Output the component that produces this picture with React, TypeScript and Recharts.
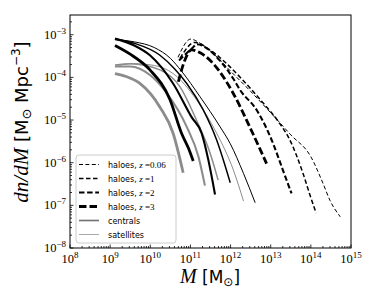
import { Line, LineChart, XAxis, YAxis } from "recharts";

type Pt = [number, number];

// halo mass functions (dashed)
const haloesZ006: Pt[] = [
  [4.9e10, 2.95e-4], [1.02e11, 7.9e-4], [1.74e11, 6.3e-4], [4.1e11, 3.3e-4],
  [1.0e12, 1.4e-4], [3.16e12, 4.7e-5], [1.0e13, 1.48e-5], [3.16e13, 4.5e-6],
  [1.0e14, 1.38e-6], [2.0e14, 3.3e-7], [3.0e14, 1.3e-7], [5.4e14, 5.4e-8],
];
const haloesZ1: Pt[] = [
  [5.5e10, 2.8e-4], [1.29e11, 6.6e-4], [3.1e11, 4.4e-4], [7.2e11, 2.3e-4],
  [1.74e12, 1.0e-4], [6.5e12, 2.5e-5], [1.45e13, 1.0e-5], [3.0e13, 3.4e-6],
  [6.3e13, 5.8e-7], [9.5e13, 1.74e-7], [1.35e14, 6.6e-8],
];
const haloesZ2: Pt[] = [
  [5.2e10, 2.5e-4], [1.1e11, 4.8e-4], [1.45e11, 6.0e-4], [2.8e11, 4.5e-4],
  [5.6e11, 2.4e-4], [1.17e12, 9.3e-5], [1.74e12, 5.0e-5], [4.5e12, 1.7e-5],
  [1.15e13, 2.8e-6], [2.0e13, 6.8e-7], [3.3e13, 1.9e-7],
];
const haloesZ3: Pt[] = [
  [5.0e10, 7.9e-5], [7.1e10, 2.4e-4], [1.07e11, 4.4e-4], [2.0e11, 3.5e-4],
  [3.7e11, 2.1e-4], [1.17e12, 4.2e-5], [3.0e12, 6.9e-6], [7.9e12, 9.5e-7],
];

// centrals (black)
const centralsZ006: Pt[] = [
  [1.32e9, 7.6e-4], [4.0e9, 6.8e-4], [1.26e10, 5.0e-4], [3.16e10, 2.8e-4],
  [6.0e10, 1.4e-4], [1.74e11, 3.5e-5], [5.5e11, 6.9e-6], [9.8e11, 2.8e-6],
  [2.1e12, 5.6e-7], [4.1e12, 1.15e-7],
];
const centralsZ1: Pt[] = [
  [1.32e9, 7.9e-4], [4.0e9, 6.3e-4], [1.74e10, 3.3e-4], [4.0e10, 1.6e-4],
  [8.1e10, 7.2e-5], [2.1e11, 1.7e-5], [4.5e11, 3.4e-6], [9.8e11, 3.4e-7],
];
const centralsZ2: Pt[] = [
  [1.32e9, 8.1e-4], [4.0e9, 5.6e-4], [9.8e9, 3.3e-4], [3.7e10, 7.2e-5],
  [1.07e11, 1.17e-5], [1.9e11, 4.9e-6], [2.8e11, 1.15e-6], [4.1e11, 1.8e-7],
];
const centralsZ3: Pt[] = [
  [1.32e9, 5.6e-4], [3.16e9, 3.5e-4], [9.8e9, 1.5e-4], [3.1e10, 3.0e-5],
  [6.0e10, 4.9e-6], [8.9e10, 2.2e-6], [1.17e11, 1.1e-6],
];

// satellites (grey)
const satellitesZ006: Pt[] = [
  [1.32e9, 1.8e-4], [3.8e9, 2.1e-4], [1.26e10, 1.9e-4], [3.7e10, 1.23e-4],
  [1.41e11, 3.0e-5], [4.5e11, 4.9e-6], [1.17e12, 6.8e-7], [2.1e12, 1.26e-7],
];
const satellitesZ1: Pt[] = [
  [1.32e9, 1.95e-4], [3.16e9, 2.1e-4], [1.74e10, 1.5e-4], [5.5e10, 6.0e-5],
  [1.41e11, 1.0e-5], [3.1e11, 1.66e-6], [4.9e11, 3.9e-7],
];
const satellitesZ2: Pt[] = [
  [1.32e9, 1.8e-4], [3.16e9, 1.8e-4], [1.0e10, 1.12e-4], [2.6e10, 4.2e-5],
  [8.1e10, 6.9e-6], [1.58e11, 1.4e-6], [2.3e11, 2.9e-7],
];
const satellitesZ3: Pt[] = [
  [1.32e9, 1.23e-4], [2.5e9, 1.05e-4], [5.5e9, 7.2e-5], [1.74e10, 2.0e-5],
  [3.7e10, 4.9e-6], [6.6e10, 5.8e-7],
];

const xMajor = [1e8, 1e9, 1e10, 1e11, 1e12, 1e13, 1e14, 1e15];
const yMajor = [1e-8, 1e-7, 1e-6, 1e-5, 1e-4, 1e-3];
const legendZ = ["0.06", "1", "2", "3"];

const GREY = "#8c8c8c";
const widths = [1, 1.5, 2.1, 2.8];
const dashes = ["4 2.4", "4.5 2.5", "5.5 2.6", "7.5 3"];

const minors = (majors: number[], max: number) => {
  const out: number[] = [];
  majors.forEach((m) => {
    out.push(m);
    for (let k = 2; k <= 9; k++) if (k * m <= max) out.push(k * m);
  });
  return out;
};
const xTicks = minors(xMajor, 1e15);
const yTicks = minors(yMajor, 2.9e-3);

const isMajor = (v: number) => {
  const l = Math.log10(v);
  return Math.abs(l - Math.round(l)) < 1e-6;
};

const SERIF = "'Liberation Serif', 'DejaVu Serif', serif";
const SANS = "'DejaVu Sans', sans-serif";

function XTick({ x, y, payload }: any) {
  const v = payload.value;
  const major = isMajor(v);
  return (
    <g>
      <line x1={x} x2={x} y1={y} y2={y - (major ? 3.5 : 2)} stroke="#000" strokeWidth={0.8} />
      {major && (
        <text x={x} y={y + 15} textAnchor="middle" fontFamily={SERIF} fontSize={12.5} fill="#000">
          10<tspan dy={-5} fontSize={9}>{Math.round(Math.log10(v))}</tspan>
        </text>
      )}
    </g>
  );
}

function YTick({ x, y, payload }: any) {
  const v = payload.value;
  const major = isMajor(v);
  return (
    <g>
      <line x1={x} x2={x + (major ? 3.5 : 2)} y1={y} y2={y} stroke="#000" strokeWidth={0.8} />
      {major && (
        <text x={x - 4} y={y + 4} textAnchor="end" fontFamily={SERIF} fontSize={12.5} fill="#000">
          10<tspan dy={-5} fontSize={9}>{"\u2212" + Math.abs(Math.round(Math.log10(v)))}</tspan>
        </text>
      )}
    </g>
  );
}

const rows = (pts: Pt[]) => pts.map(([m, n]) => ({ m, n }));

const haloes = [haloesZ006, haloesZ1, haloesZ2, haloesZ3];
const centrals = [centralsZ006, centralsZ1, centralsZ2, centralsZ3];
const satellites = [satellitesZ006, satellitesZ1, satellitesZ2, satellitesZ3];

export default function App() {
  return (
    <div style={{ position: "absolute", left: 0, top: 0, width: 390, height: 293, background: "#fff" }}>
      <LineChart width={390} height={293} margin={{ top: 15, right: 39, bottom: 0, left: 0 }}>
        <XAxis
          type="number"
          dataKey="m"
          scale="log"
          domain={[1e8, 1e15]}
          allowDataOverflow
          ticks={xTicks}
          interval={0}
          tick={(p: any) => <XTick {...p} />}
          tickSize={0}
          tickMargin={0}
          axisLine={false}
          tickLine={false}
          height={45}
        />
        <YAxis
          type="number"
          dataKey="n"
          scale="log"
          domain={[1e-8, 2.9e-3]}
          allowDataOverflow
          ticks={yTicks}
          interval={0}
          tick={(p: any) => <YTick {...p} />}
          tickSize={0}
          tickMargin={0}
          axisLine={false}
          tickLine={false}
          width={70}
        />
        {satellites.map((d, i) => (
          <Line key={"s" + i} data={rows(d)} dataKey="n" type="monotone" stroke={GREY}
            strokeWidth={widths[i]} dot={false} isAnimationActive={false} />
        ))}
        {centrals.map((d, i) => (
          <Line key={"c" + i} data={rows(d)} dataKey="n" type="monotone" stroke="#000"
            strokeWidth={widths[i]} dot={false} isAnimationActive={false} />
        ))}
        {haloes.map((d, i) => (
          <Line key={"h" + i} data={rows(d)} dataKey="n" type="monotone" stroke="#000"
            strokeWidth={widths[i]} strokeDasharray={dashes[i]} dot={false} isAnimationActive={false} />
        ))}
      </LineChart>
      <svg width={390} height={293} style={{ position: "absolute", left: 0, top: 0, pointerEvents: "none" }}>
        <rect x={70} y={15} width={281} height={233} fill="none" stroke="#000" strokeWidth={1} />
        <g>
          <rect x={76} y={155} width={100} height={88} rx={3} fill="rgba(255,255,255,0.85)" stroke="#cccccc" strokeWidth={1} />
          {legendZ.map((z, i) => {
            const cy = 164.5 + i * 14;
            return (
              <g key={z}>
                <line x1={79} x2={99} y1={cy} y2={cy} stroke="#000" strokeWidth={widths[i]} strokeDasharray={dashes[i]} />
                <text x={108} y={cy + 3} fontSize={8} fill="#000">
                  <tspan fontFamily={SANS}>haloes, </tspan>
                  <tspan fontFamily={SERIF} fontStyle="italic" fontSize={9}>z</tspan>
                  <tspan fontFamily={SERIF} fontSize={9}> =</tspan>
                  <tspan fontFamily={SERIF} fontSize={9}>{z}</tspan>
                </text>
              </g>
            );
          })}
          <line x1={79} x2={99} y1={220.5} y2={220.5} stroke="#707070" strokeWidth={1.6} />
          <text x={108} y={223.5} fontSize={8} fontFamily={SANS} fill="#000">centrals</text>
          <line x1={79} x2={99} y1={234.5} y2={234.5} stroke="#a8a8a8" strokeWidth={1} />
          <text x={108} y={237.5} fontSize={8} fontFamily={SANS} fill="#000">satellites</text>
        </g>
        <text x={210} y={283} textAnchor="middle" fill="#000">
          <tspan fontFamily={SERIF} fontStyle="italic" fontSize={20}>M</tspan>
          <tspan fontFamily={SANS} fontSize={17}>{"  [M"}</tspan>
          <tspan fontFamily={SANS} fontSize={12} dy={3}>{"\u2299"}</tspan>
          <tspan fontFamily={SANS} fontSize={17} dy={-3}>]</tspan>
        </text>
        <text transform="translate(28,122) rotate(-90)" textAnchor="middle" fill="#000">
          <tspan fontFamily={SERIF} fontStyle="italic" fontSize={21}>dn/dM</tspan>
          <tspan fontFamily={SANS} fontSize={18}>{"  [M"}</tspan>
          <tspan fontFamily={SANS} fontSize={13} dy={3}>{"\u2299"}</tspan>
          <tspan fontFamily={SANS} fontSize={18} dy={-3}>{" Mpc"}</tspan>
          <tspan fontFamily={SANS} fontSize={12} dy={-8}>{"\u22123"}</tspan>
          <tspan fontFamily={SANS} fontSize={18} dy={8}>]</tspan>
        </text>
      </svg>
    </div>
  );
}
